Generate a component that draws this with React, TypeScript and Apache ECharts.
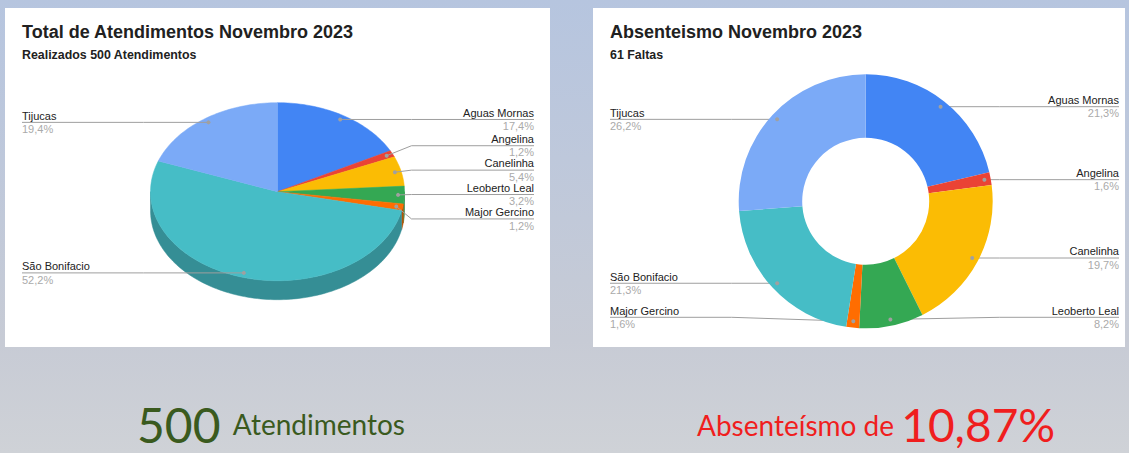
import React, { useEffect, useRef } from 'react';
import * as echarts from 'echarts';

// ---------- data ----------
const municipios = ['Aguas Mornas', 'Angelina', 'Canelinha', 'Leoberto Leal', 'Major Gercino', 'São Bonifacio', 'Tijucas'];
const atendimentos = [87, 6, 27, 16, 6, 261, 97];
const faltas = [13, 1, 12, 5, 1, 13, 16];
const cores = ['#4285F4', '#EA4335', '#FBBC04', '#34A853', '#FF6D01', '#46BDC6', '#7BAAF7'];
const tituloAtend = 'Total de Atendimentos Novembro 2023';
const tituloAbs = 'Absenteismo Novembro 2023';

const sum = (a: number[]) => a.reduce((s, v) => s + v, 0);
const totalAtend = sum(atendimentos);
const totalFaltas = sum(faltas);
const taxaAbs = (totalFaltas / (totalAtend + totalFaltas)) * 100;
const fmt = (v: number, d: number) => v.toFixed(d).replace('.', ',');

// ---------- layout ----------
const FONT = 'Arial, "Liberation Sans", sans-serif';
const PIE3D = { cx: 277.5, cy: 191.7, rx: 127, ry: 89, depth: 19, leftX: 22, rightX: 534 };
const DONUT = { cx: 865.7, cy: 201.3, rx: 127, ry: 127, r0: 63.5, leftX: 610, rightX: 1119 };
const ANCHOR = 0.95;
const KNEE = 7;
const GAP = 24.4;
const MAX_LINE_Y = 317.3;
const LINE = '#9e9e9e';

function spread(ys: number[], gap: number, maxY: number): number[] {
  let clusters = ys.map((y) => ({ n: 1, sum: y }));
  const top = (c: { n: number; sum: number }) => c.sum / c.n - ((c.n - 1) * gap) / 2;
  let merged = true;
  while (merged) {
    merged = false;
    for (let k = 0; k < clusters.length - 1; k++) {
      const a = clusters[k];
      const b = clusters[k + 1];
      if (top(b) - (top(a) + (a.n - 1) * gap) < gap) {
        clusters.splice(k, 2, { n: a.n + b.n, sum: a.sum + b.sum });
        merged = true;
        break;
      }
    }
  }
  const out: number[] = [];
  clusters.forEach((c) => {
    let t = top(c);
    const bottom = t + (c.n - 1) * gap;
    if (bottom > maxY) t -= bottom - maxY;
    for (let i = 0; i < c.n; i++) out.push(t + i * gap);
  });
  return out;
}

type Lbl = { a0: number; a1: number; ax: number; ay: number; side: number; ly: number; pts: number[][] };

function buildLabels(values: number[], geo: any): Lbl[] {
  const total = sum(values);
  let acc = 0;
  const out: Lbl[] = values.map((v) => {
    const a0 = (acc / total) * 360;
    acc += v;
    const a1 = (acc / total) * 360;
    const mid = (((a0 + a1) / 2) * Math.PI) / 180;
    const ax = geo.cx + Math.sin(mid) * geo.rx * ANCHOR;
    const ay = geo.cy - Math.cos(mid) * geo.ry * ANCHOR;
    return { a0, a1, ax, ay, side: Math.sin(mid) >= 0 ? 1 : -1, ly: ay, pts: [] };
  });
  [1, -1].forEach((side) => {
    const g = out.filter((l) => l.side === side).sort((a, b) => a.ay - b.ay);
    const ys = spread(g.map((l) => l.ay), GAP, MAX_LINE_Y);
    g.forEach((l, k) => {
      l.ly = ys[k];
      const kneeX = geo.cx + side * (geo.rx + KNEE);
      const endX = side > 0 ? geo.rightX : geo.leftX;
      l.pts = [[l.ax, l.ay], [kneeX, l.ly], [endX, l.ly]];
    });
  });
  return out;
}

const lab3d = buildLabels(atendimentos, PIE3D);
const labDonut = buildLabels(faltas, DONUT);

const arcPts = (g: any, a0: number, a1: number, dy: number) => {
  const n = Math.max(2, Math.ceil((a1 - a0) / 1.5) + 1);
  const pts: number[][] = [];
  for (let k = 0; k < n; k++) {
    const t = ((a0 + ((a1 - a0) * k) / (n - 1)) * Math.PI) / 180;
    pts.push([g.cx + g.rx * Math.sin(t), g.cy - g.ry * Math.cos(t) + dy]);
  }
  return pts;
};

const darken = (hex: string, f: number) => {
  const n = parseInt(hex.slice(1), 16);
  const r = Math.round(((n >> 16) & 255) * f);
  const g = Math.round(((n >> 8) & 255) * f);
  const b = Math.round((n & 255) * f);
  return `rgb(${r},${g},${b})`;
};

const textStyle = (text: string, fill: string, align: string) => ({
  text,
  fill,
  font: `11px ${FONT}`,
  textAlign: align,
  align,
  textVerticalAlign: 'middle',
  verticalAlign: 'middle',
});

function buildOption() {
  const side3d = {
    type: 'custom',
    coordinateSystem: 'none',
    z: 1,
    silent: true,
    data: atendimentos,
    renderItem: (params: any) => {
      const i = params.dataIndex;
      const l = lab3d[i];
      const s = Math.max(l.a0, 90);
      const e = Math.min(l.a1, 270);
      if (s >= e) return { type: 'group', children: [] };
      const top = arcPts(PIE3D, s, e, 0);
      const bot = arcPts(PIE3D, s, e, PIE3D.depth).reverse();
      const c = darken(cores[i], 0.75);
      return { type: 'polygon', shape: { points: top.concat(bot) }, style: { fill: c, stroke: c, lineWidth: 0.5 } };
    },
  };

  const top3d = {
    type: 'custom',
    coordinateSystem: 'none',
    z: 2,
    silent: true,
    data: atendimentos,
    renderItem: (params: any, api: any) => {
      const i = params.dataIndex;
      const l = lab3d[i];
      const g = PIE3D;
      const face = [[g.cx, g.cy]].concat(arcPts(g, l.a0, l.a1, 0));
      const align = l.side > 0 ? 'right' : 'left';
      const x = l.side > 0 ? g.rightX : g.leftX;
      const pct = fmt((api.value(0) / totalAtend) * 100, 1) + '%';
      return {
        type: 'group',
        children: [
          { type: 'polygon', z2: 1, shape: { points: face }, style: { fill: cores[i], stroke: cores[i], lineWidth: 0.5 } },
          { type: 'polyline', z2: 10, shape: { points: l.pts }, style: { stroke: LINE, lineWidth: 1, fill: 'none' } },
          { type: 'circle', z2: 11, shape: { cx: l.ax, cy: l.ay, r: 2 }, style: { fill: '#a0a0a0' } },
          { type: 'text', z2: 12, x, y: l.ly - 6.75, style: textStyle(municipios[i], '#222222', align) },
          { type: 'text', z2: 12, x, y: l.ly + 6.75, style: textStyle(pct, '#aaaaaa', align) },
        ],
      };
    },
  };

  const donut = {
    type: 'pie',
    z: 2,
    silent: true,
    center: [DONUT.cx, DONUT.cy],
    radius: [DONUT.r0, DONUT.rx],
    startAngle: 90,
    clockwise: true,
    avoidLabelOverlap: false,
    emphasis: { disabled: true },
    data: municipios.map((n, i) => ({ name: n, value: faltas[i], itemStyle: { color: cores[i] } })),
    label: {
      show: true,
      position: 'outside',
      formatter: (p: any) => `{n|${p.name}}\n{p|${fmt((p.value / totalFaltas) * 100, 1)}%}`,
      rich: {
        n: { fontSize: 11, fontFamily: FONT, color: '#222222', lineHeight: 13.5 },
        p: { fontSize: 11, fontFamily: FONT, color: '#aaaaaa', lineHeight: 13.5 },
      },
    },
    labelLine: { show: true, length: 10, length2: 10, lineStyle: { color: LINE, width: 1 } },
    labelLayout: (params: any) => {
      const l = labDonut[params.dataIndex];
      return {
        x: l.side > 0 ? DONUT.rightX : DONUT.leftX,
        y: l.ly,
        align: l.side > 0 ? 'right' : 'left',
        verticalAlign: 'middle',
        labelLinePoints: l.pts,
      };
    },
  };

  const donutDots = {
    type: 'custom',
    coordinateSystem: 'none',
    z: 3,
    silent: true,
    data: faltas,
    renderItem: (params: any) => {
      const l = labDonut[params.dataIndex];
      return { type: 'circle', shape: { cx: l.ax, cy: l.ay, r: 2 }, style: { fill: '#a0a0a0' } };
    },
  };

  const titleBase = {
    top: 23,
    padding: 0,
    itemGap: 8,
    textStyle: { fontFamily: FONT, fontSize: 18, fontWeight: 'bold', color: '#212121' },
    subtextStyle: { fontFamily: FONT, fontSize: 12.4, fontWeight: 'bold', color: '#212121' },
  };

  return {
    animation: false,
    backgroundColor: 'transparent',
    title: [
      { ...titleBase, left: PIE3D.leftX, text: tituloAtend, subtext: `Realizados ${totalAtend} Atendimentos` },
      { ...titleBase, left: DONUT.leftX, text: tituloAbs, subtext: `${totalFaltas} Faltas` },
    ],
    series: [side3d, top3d, donut, donutDots],
    graphic: [
      {
        type: 'text',
        x: 137,
        y: 448,
        style: {
          text: `{b|${totalAtend} }{s|Atendimentos}`,
          textVerticalAlign: 'bottom',
          verticalAlign: 'bottom',
          rich: {
            b: { fontFamily: 'Lato', fontSize: 48, lineHeight: 48, fill: '#3a5a1e' },
            s: { fontFamily: 'Lato', fontSize: 28, lineHeight: 32, fill: '#3a5a1e' },
          },
        },
      },
      {
        type: 'text',
        x: 697,
        y: 448,
        style: {
          text: `{s|Absenteísmo de }{b|${fmt(taxaAbs, 2)}%}`,
          textVerticalAlign: 'bottom',
          verticalAlign: 'bottom',
          rich: {
            b: { fontFamily: 'Lato', fontSize: 46, lineHeight: 47, fill: '#f01e1e' },
            s: { fontFamily: 'Lato', fontSize: 28, lineHeight: 32, fill: '#f01e1e' },
          },
        },
      },
    ],
  };
}

export default function App() {
  const ref = useRef<HTMLDivElement>(null);
  useEffect(() => {
    document.body.style.margin = '0';
    const chart = echarts.init(ref.current as HTMLDivElement, null, { renderer: 'svg' });
    chart.setOption(buildOption() as any);
    return () => chart.dispose();
  }, []);
  return (
    <div
      style={{
        position: 'relative',
        width: 1129,
        height: 453,
        overflow: 'hidden',
        background: 'linear-gradient(to bottom, #b6c5df 0%, #bec8db 35%, #c7cbd5 75%, #cfd2d7 100%)',
      }}
    >
      <div style={{ position: 'absolute', left: 5, top: 8, width: 545, height: 339, background: '#ffffff' }} />
      <div style={{ position: 'absolute', left: 593, top: 8, width: 532, height: 339, background: '#ffffff' }} />
      <div ref={ref} style={{ position: 'absolute', left: 0, top: 0, width: 1129, height: 453 }} />
    </div>
  );
}
